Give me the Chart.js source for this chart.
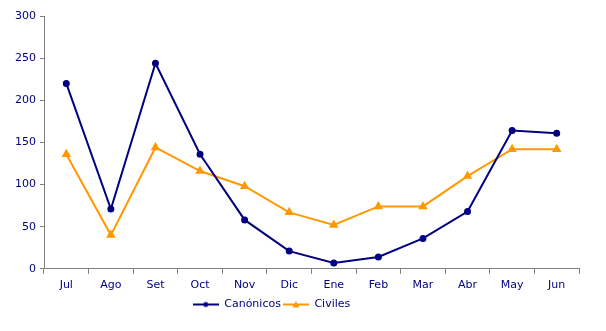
<!DOCTYPE html>
<html>
<head>
<meta charset="utf-8">
<script src="https://cdn.jsdelivr.net/npm/chart.js@4"></script>
<style>
  html, body { margin: 0; padding: 0; background: #fff; }
  #wrap { width: 606px; height: 331px; position: relative; }
</style>
</head>
<body>
<div id="wrap"><canvas id="chart"></canvas></div>
<script>
const months = ['Jul', 'Ago', 'Set', 'Oct', 'Nov', 'Dic', 'Ene', 'Feb', 'Mar', 'Abr', 'May', 'Jun'];
const canonicos = [220, 71, 244, 136, 58, 21, 7, 14, 36, 68, 164, 161];
const civiles = [136, 40, 144, 116, 98, 67, 52, 74, 74, 110, 142, 142];
const yTicks = [0, 50, 100, 150, 200, 250, 300];

const NAVY = '#000080';
const ORANGE = '#FF9900';
const AXIS = '#808080';

// little legend icon: line with marker in the middle
function legendIcon(color, style) {
    const c = document.createElement('canvas');
    c.width = 26; c.height = 10;
    const g = c.getContext('2d');
    g.strokeStyle = color; g.fillStyle = color; g.lineWidth = 2;
    g.beginPath(); g.moveTo(0, 5); g.lineTo(26, 5); g.stroke();
    g.beginPath();
    if (style === 'triangle') {
        g.moveTo(13, 1.5); g.lineTo(16.5, 8); g.lineTo(9.5, 8); g.closePath();
    } else {
        g.arc(13, 5, 2.5, 0, Math.PI * 2);
    }
    g.fill();
    return c;
}

// the original legend sits a bit left of centre
const shiftLegend = {
    id: 'shiftLegend',
    afterLayout(chart) {
        if (chart.legend) {
            chart.legend.left -= 18;
            chart.legend.right -= 18;
        }
    }
};

const ctx = document.getElementById('chart');
new Chart(ctx, {
    type: 'line',
    data: {
        labels: months,
        datasets: [
            {
                label: 'Canónicos',
                data: canonicos,
                borderColor: NAVY,
                backgroundColor: NAVY,
                borderWidth: 2,
                pointStyle: 'circle',
                pointRadius: 2.5,
                tension: 0
            },
            {
                label: 'Civiles',
                data: civiles,
                borderColor: ORANGE,
                backgroundColor: ORANGE,
                borderWidth: 2,
                pointStyle: 'triangle',
                pointRadius: 3.5,
                tension: 0
            }
        ]
    },
    options: {
        responsive: true,
        maintainAspectRatio: false,
        animation: false,
        layout: { padding: { top: 16, right: 27, left: 0, bottom: 11 } },
        scales: {
            x: {
                offset: true,
                grid: { offset: true, drawOnChartArea: false, color: AXIS, tickLength: 5 },
                border: { color: AXIS, width: 1 },
                ticks: { color: NAVY, font: { family: 'DejaVu Sans', size: 11 }, padding: 5 }
            },
            y: {
                min: 0,
                max: 300,
                afterFit: (scale) => { scale.width = 44; },
                afterBuildTicks: (scale) => { scale.ticks = yTicks.map(v => ({ value: v })); },
                grid: { drawOnChartArea: false, color: AXIS, tickLength: 4 },
                border: { color: AXIS, width: 1 },
                ticks: { color: NAVY, font: { family: 'DejaVu Sans', size: 11 }, padding: 4 }
            }
        },
        plugins: {
            legend: {
                position: 'bottom',
                labels: {
                    color: NAVY,
                    font: { family: 'DejaVu Sans', size: 11 },
                    usePointStyle: true,
                    pointStyleWidth: 26,
                    padding: 2,
                    generateLabels: (chart) => chart.data.datasets.map((ds, i) => ({
                        text: ds.label,
                        fontColor: NAVY,
                        pointStyle: legendIcon(ds.borderColor, ds.pointStyle),
                        datasetIndex: i,
                        lineWidth: 0,
                        strokeStyle: ds.borderColor,
                        fillStyle: ds.borderColor
                    }))
                }
            },
            tooltip: { enabled: false }
        }
    },
    plugins: [shiftLegend]
});
</script>
</body>
</html>
